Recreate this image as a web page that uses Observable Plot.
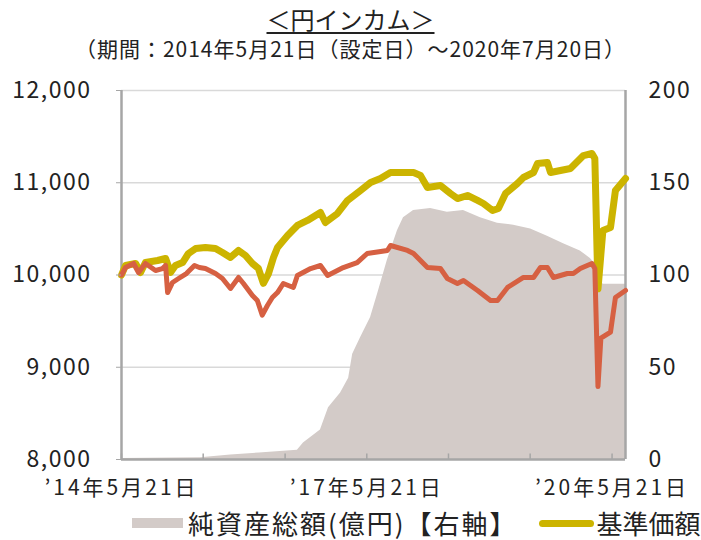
<!DOCTYPE html>
<html><head><meta charset="utf-8">
<script src="https://cdn.jsdelivr.net/npm/d3@7"></script>
<script src="https://cdn.jsdelivr.net/npm/@observablehq/plot@0.6"></script>
<style>
body{margin:0;background:#fff;}
#wrap{position:relative;width:701px;height:540px;overflow:hidden;font-family:"Noto Sans CJK JP",sans-serif;color:#222;}
#title{position:absolute;left:0;width:701px;top:4px;text-align:center;font-size:24px;line-height:30px;}
#title span{text-decoration:underline;text-underline-offset:3px;text-decoration-thickness:2px;}
#sub{position:absolute;left:0;width:701px;top:34px;text-align:center;font-size:21px;line-height:28px;letter-spacing:1px;}
#chart{position:absolute;left:0;top:60px;}
#chart [aria-label="y-axis tick label"] text{letter-spacing:1.5px;}
#chart [aria-label="x-axis tick label"] text{letter-spacing:3px;}
#legend{position:absolute;left:132px;top:505px;white-space:nowrap;font-size:26px;line-height:36px;display:flex;align-items:center;}
#legend .l0{letter-spacing:2px;}
.sw-area{display:inline-block;width:51px;height:10px;background:#d3cbc8;margin-right:5px;}
.sw-line{display:inline-block;width:55px;height:7px;border-radius:4px;margin:0 3px 0 21px;}
</style></head>
<body>
<div id="wrap">
  <div id="title"><span>＜円インカム＞</span></div>
  <div id="sub">（期間：2014年5月21日（設定日）～2020年7月20日）</div>
  <div id="chart"></div>
  <div id="legend"></div>
</div>
<script>
// 基準価額（分配金再投資）— left axis (円)
const goldDates = ["2014-05-21","2014-06-08","2014-07-23","2014-08-14","2014-09-05","2014-10-29","2014-12-04","2014-12-26","2015-01-17","2015-02-18","2015-03-16","2015-04-17","2015-05-31","2015-07-15","2015-08-15","2015-09-20","2015-10-26","2015-11-26","2015-12-27","2016-01-23","2016-02-14","2016-03-08","2016-03-30","2016-04-17","2016-06-01","2016-07-15","2016-08-29","2016-10-26","2016-11-17","2017-01-10","2017-02-24","2017-04-23","2017-06-07","2017-07-21","2017-09-04","2017-12-16","2018-01-16","2018-02-16","2018-04-15","2018-05-30","2018-06-30","2018-08-14","2018-09-28","2018-10-24","2018-12-04","2018-12-30","2019-01-31","2019-03-25","2019-04-21","2019-06-05","2019-06-23","2019-08-06","2019-08-20","2019-10-03","2019-11-17","2020-01-14","2020-02-21","2020-03-05","2020-03-19","2020-04-10","2020-05-14","2020-06-05","2020-07-20"];
const goldValues = [10000,10103,10125,10027,10135,10157,10179,10027,10103,10135,10233,10287,10298,10287,10244,10190,10266,10211,10125,10070,9910,10016,10190,10298,10428,10537,10591,10678,10569,10667,10808,10916,11003,11046,11111,11111,11079,10949,10970,10884,10829,10862,10808,10775,10699,10721,10884,10992,11057,11111,11209,11220,11111,11133,11155,11295,11317,11263,9850,10482,10515,10916,11046];

// 基準価額 — left axis (円)
const redDates = ["2014-05-21","2014-06-08","2014-07-14","2014-08-05","2014-09-05","2014-10-20","2014-11-20","2014-12-04","2014-12-13","2015-01-04","2015-01-31","2015-03-07","2015-04-12","2015-05-04","2015-05-31","2015-07-15","2015-08-15","2015-09-20","2015-10-26","2015-11-17","2015-12-27","2016-01-18","2016-02-09","2016-03-03","2016-03-25","2016-04-17","2016-05-13","2016-06-27","2016-07-15","2016-09-12","2016-10-26","2016-11-27","2017-02-05","2017-04-08","2017-05-23","2017-08-21","2017-09-04","2017-11-19","2017-12-16","2018-02-16","2018-04-15","2018-05-16","2018-06-30","2018-07-27","2018-09-28","2018-11-25","2018-12-26","2019-02-09","2019-04-21","2019-06-05","2019-07-06","2019-08-06","2019-09-02","2019-11-03","2019-11-30","2019-12-31","2020-02-21","2020-03-05","2020-03-19","2020-04-01","2020-05-14","2020-06-05","2020-07-20"];
const redValues = [10000,10081,10125,10027,10125,10049,10070,10103,9810,9919,9962,10016,10103,10081,10070,10016,9962,9854,9973,9908,9778,9724,9565,9669,9756,9810,9908,9865,9995,10070,10103,9995,10081,10135,10233,10266,10320,10266,10233,10081,10070,9962,9908,9940,9832,9724,9724,9865,9973,9973,10081,10081,9973,10016,10016,10070,10125,10070,8790,9315,9380,9756,9832];

// 純資産総額（億円）— right axis
const assetDates = ["2014-05-21","2015-05-09","2015-09-21","2016-01-27","2016-07-15","2016-08-11","2016-10-26","2016-12-01","2017-01-24","2017-03-01","2017-03-19","2017-04-23","2017-06-07","2017-07-09","2017-08-21","2017-10-05","2017-11-01","2017-12-16","2018-03-02","2018-05-16","2018-07-27","2018-10-11","2018-12-26","2019-03-08","2019-05-23","2019-08-06","2019-10-17","2019-12-31","2020-02-14","2020-03-07","2020-03-27","2020-04-13","2020-07-20"];
const assetValues = [0.5,1,2.5,3.5,5,9,16,28,36,44,57,66,77,90,108,124,131,135,136,134,135,131,128,127,125,121,117,113,109,106,96,95,95];

const leftTicks = [8000, 9000, 10000, 11000, 12000];
const rightTicks = [0, 50, 100, 150, 200];
const yearTickDates = ["2014-05-21","2015-05-21","2016-05-21","2017-05-21","2018-05-21","2019-05-21","2020-05-21"];
const xLabels = ["’14年5月21日","","","’17年5月21日","","","’20年5月21日"];
const periodStart = "2014-05-21", periodEnd = "2020-07-20";

const legendLabels = ["純資産総額(億円)【右軸】", "基準価額(分配金再投資)", "基準価額"];
const colors = {area: "#d3cbc8", gold: "#ccb400", red: "#d66042"};

const P = s => new Date(s + "T00:00:00Z");
const gold = goldDates.map((d, i) => ({date: P(d), v: goldValues[i]}));
const red = redDates.map((d, i) => ({date: P(d), v: redValues[i]}));
const assets = assetDates.map((d, i) => ({date: P(d), v: assetValues[i]}));
// right axis (0–200) mapped onto left scale (8000–12000)
const toLeft = v => 8000 + v * 20;
const yearTicks = yearTickDates.map(P);

const chart = Plot.plot({
  width: 701, height: 445,
  marginLeft: 121, marginRight: 76, marginTop: 30, marginBottom: 46,
  x: {type: "utc", domain: [P(periodStart), P(periodEnd)], label: null},
  y: {domain: [8000, 12000], label: null},
  style: {fontFamily: '"Noto Sans CJK JP", sans-serif', fontSize: "21px", color: "#222", background: "white"},
  marks: [
    Plot.ruleY(leftTicks.slice(1), {stroke: "#d9d9d9", strokeWidth: 1.5}),
    Plot.areaY(assets, {x: "date", y1: 8000, y2: d => toLeft(d.v), fill: colors.area}),
    Plot.ruleY([8000], {stroke: "#a6a6a6", strokeWidth: 2.5}),
    Plot.ruleX([P(periodStart), P(periodEnd)], {stroke: "#a6a6a6", strokeWidth: 2.5}),
    Plot.ruleX(yearTicks, {y1: 8000, y2: 8060, stroke: "#a6a6a6", strokeWidth: 1.5}),
    Plot.lineY(gold, {x: "date", y: "v", stroke: colors.gold, strokeWidth: 7, strokeLinejoin: "round", strokeLinecap: "round"}),
    Plot.lineY(red, {x: "date", y: "v", stroke: colors.red, strokeWidth: 5, strokeLinejoin: "round", strokeLinecap: "round"}),
    Plot.axisY({anchor: "left", ticks: leftTicks, tickFormat: d3.format(","), tickSize: 5, tickPadding: 25, stroke: "#a6a6a6", fontSize: 23, label: null}),
    Plot.axisY({anchor: "right", ticks: leftTicks, tickFormat: (d, i) => String(rightTicks[i]), tickSize: 0, tickPadding: 23, textAnchor: "start", fontSize: 23, label: null}),
    Plot.axisX({ticks: yearTicks, tickFormat: (d, i) => xLabels[i], tickSize: 0, tickPadding: 21, fontSize: 21, label: null})
  ]
});
document.getElementById("chart").appendChild(chart);

const lg = document.getElementById("legend");
lg.innerHTML = `<span class="sw-area"></span><span class="l0">${legendLabels[0]}</span>` +
  `<span class="sw-line" style="background:${colors.gold}"></span><span>${legendLabels[1]}</span>` +
  `<span class="sw-line" style="background:${colors.red}"></span><span>${legendLabels[2]}</span>`;
</script>
</body></html>
